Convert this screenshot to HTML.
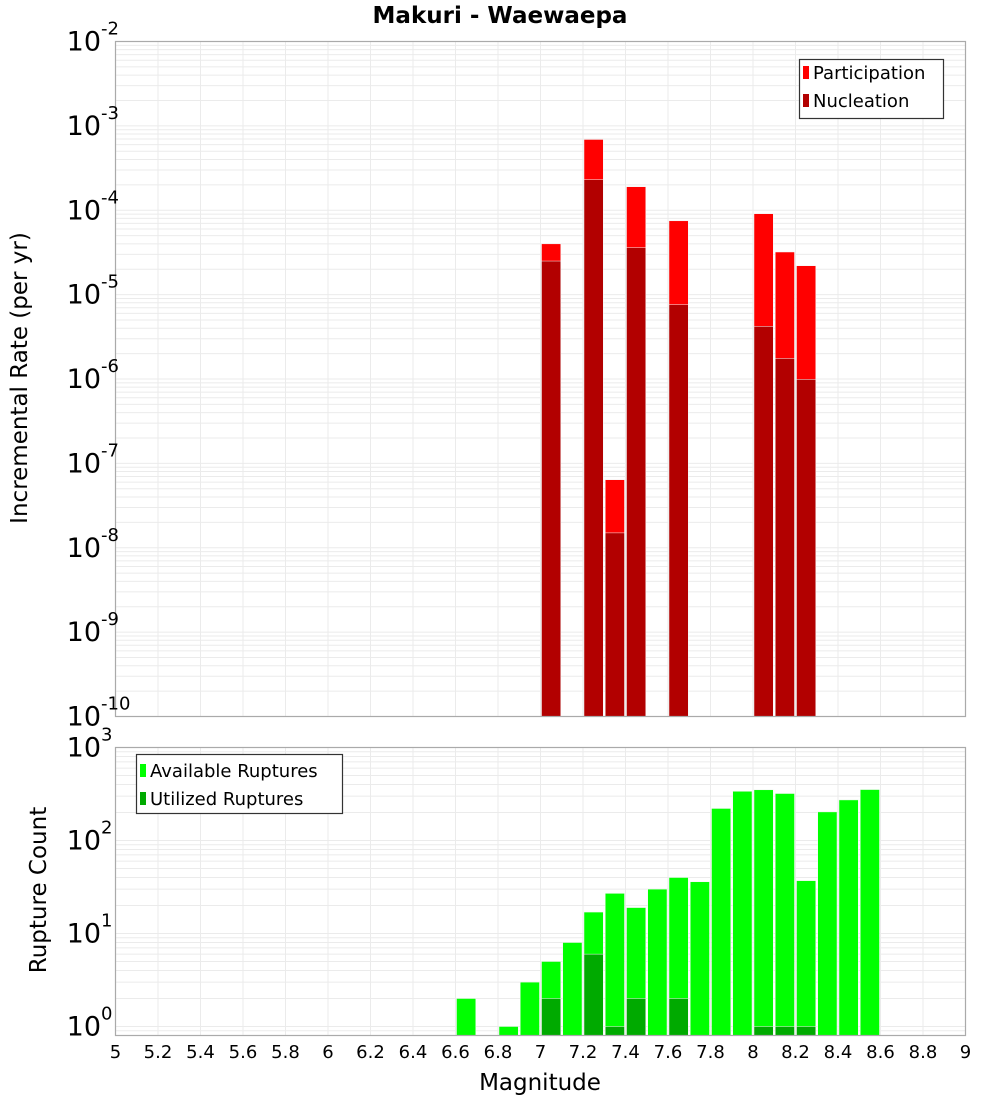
<!DOCTYPE html>
<html><head><meta charset="utf-8"><style>
body{margin:0;background:#fff;}
svg{display:block;font-family:"DejaVu Sans","Liberation Sans",sans-serif;}
</style></head><body>
<svg id="chart" width="1000" height="1100" xmlns="http://www.w3.org/2000/svg"></svg>
<script>
const binCenters = [6.65,6.85,6.95,7.05,7.15,7.25,7.35,7.45,7.55,7.65,7.75,7.85,7.95,8.05,8.15,8.25,8.35,8.45,8.55];
const availableCounts = [2,1,3,5,8,17,27,19,30,40,36,221,338,351,320,37,203,273,353];
const utilizedCounts = [0,0,0,2,0,6,1,2,0,2,0,0,0,1,1,1,0,0,0];
const rateMags = [7.05,7.25,7.35,7.45,7.65,8.05,8.15,8.25];
const participationRates = [4.0e-5,6.9e-4,6.4e-8,1.9e-4,7.5e-5,9.1e-5,3.2e-5,2.2e-5];
const nucleationRates = [2.5e-5,2.3e-4,1.5e-8,3.6e-5,7.6e-6,4.2e-6,1.75e-6,9.9e-7];
const xTicks = [5,5.2,5.4,5.6,5.8,6,6.2,6.4,6.6,6.8,7,7.2,7.4,7.6,7.8,8,8.2,8.4,8.6,8.8,9];
const topExps = [-10,-9,-8,-7,-6,-5,-4,-3,-2];
const botExps = [0,1,2,3];

const NS="http://www.w3.org/2000/svg";
const svg=document.getElementById('chart');
function mk(tag,attrs,parent){const e=document.createElementNS(NS,tag);for(const k in attrs)e.setAttribute(k,attrs[k]);(parent||svg).appendChild(e);return e;}
const L=115.5,R=965.5;
const xs=m=>L+(m-5)/4*(R-L);
const topT=41.5,topB=716.5;
const yTop=v=>topT+(-2-Math.log10(v))/8*(topB-topT);
const botT=747.5,botB=1035.5,dec=93;
const yBot=v=>(botT+3*dec)-Math.log10(v)*dec;
const bw=(R-L)/40;

function grid(top,bot,yf,lo,hi){
  for(const t of xTicks){const l=mk('line',{x1:xs(t),x2:xs(t),y1:top,y2:bot,stroke:'#ebebeb','stroke-width':1});}
  for(let e=lo;e<=hi;e++)for(let k=1;k<10;k++){const y=yf(k*Math.pow(10,e));if(y<top-0.1||y>bot+0.1)continue;const l=mk('line',{x1:L,x2:R,y1:y,y2:y,stroke:'#ebebeb','stroke-width':1});}
}
grid(topT,topB,yTop,-10,-3);
grid(botT,botB,yBot,-1,2);

function bar(m,v,yf,bottom,color,name){
  if(!(v>0))return;
  const y=yf(v);
  const r=mk('rect',{x:xs(m)-bw/2+1,y:y,width:bw-2,height:bottom-y,fill:color,stroke:'#f4f4f4','stroke-width':0.5});
  
  
}
rateMags.forEach((m,i)=>bar(m,participationRates[i],yTop,topB,'#ff0000','participation-bar'));
rateMags.forEach((m,i)=>bar(m,nucleationRates[i],yTop,topB,'#b20000','nucleation-bar'));
binCenters.forEach((m,i)=>bar(m,availableCounts[i],yBot,botB,'#00ff00','available-bar'));
binCenters.forEach((m,i)=>bar(m,utilizedCounts[i],yBot,botB,'#00aa00','utilized-bar'));

mk('rect',{x:L,y:topT,width:R-L,height:topB-topT,fill:'none',stroke:'#aaa','stroke-width':1.2,});
mk('rect',{x:L,y:botT,width:R-L,height:botB-botT,fill:'none',stroke:'#aaa','stroke-width':1.2,});

function ylabel(e,y){
  const t=mk('text',{x:101,y:y+9,'font-size':27,'text-anchor':'end',fill:'#000'});
  t.textContent='10';
  
  
  const s=mk('text',{x:101,y:y-7,'font-size':18,fill:'#000'});
  s.textContent=String(e);
  
  
}
topExps.forEach(e=>ylabel(e,yTop(Math.pow(10,e))));
botExps.forEach(e=>ylabel(e,yBot(Math.pow(10,e))));

xTicks.forEach(t=>{const tx=mk('text',{x:xs(t),y:1058,'font-size':18,'text-anchor':'middle',fill:'#000'});tx.textContent=String(t);});
</script>
<svg style="position:absolute;left:0;top:0" width="1000" height="1100" xmlns="http://www.w3.org/2000/svg" font-family="DejaVu Sans, Liberation Sans, sans-serif">
<text x="500" y="23" font-size="23" font-weight="bold" text-anchor="middle">Makuri - Waewaepa</text>
<text transform="translate(27,378) rotate(-90)" font-size="23" text-anchor="middle">Incremental Rate (per yr)</text>
<text transform="translate(46,890) rotate(-90)" font-size="23" text-anchor="middle">Rupture Count</text>
<text x="540" y="1090" font-size="23" text-anchor="middle">Magnitude</text>
<g>
<rect x="799.5" y="59.5" width="144" height="59" fill="#fff" stroke="#333" stroke-width="1.2"/>
<rect x="803" y="66" width="6" height="13" fill="#ff0000"/>
<text x="813" y="79" font-size="18">Participation</text>
<rect x="803" y="94" width="6" height="13" fill="#b20000"/>
<text x="813" y="107" font-size="18">Nucleation</text>
</g>
<g>
<rect x="136.5" y="754.5" width="206" height="59" fill="#fff" stroke="#333" stroke-width="1.2"/>
<rect x="140" y="764" width="6" height="13" fill="#00ff00"/>
<text x="150" y="777" font-size="18">Available Ruptures</text>
<rect x="140" y="792" width="6" height="13" fill="#00aa00"/>
<text x="150" y="805" font-size="18">Utilized Ruptures</text>
</g>
</svg>
</body></html>
